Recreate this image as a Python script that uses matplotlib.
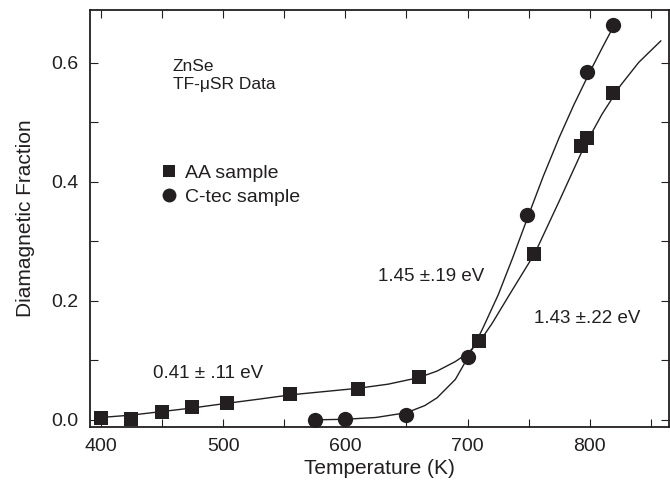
import matplotlib
matplotlib.use("Agg")
import matplotlib.pyplot as plt
from matplotlib.ticker import MultipleLocator
from matplotlib.lines import Line2D

plt.rcParams["font.family"] = ["Liberation Sans", "DejaVu Sans"]

INK = "#231f20"

# AA sample data (squares)
aa_T = [400, 425, 450, 475, 503, 555, 610, 660, 709, 754, 793, 798, 819]
aa_f = [0.003, 0.002, 0.014, 0.021, 0.028, 0.043, 0.052, 0.072, 0.132, 0.278, 0.460, 0.473, 0.549]

# C-tec sample data (circles)
ct_T = [575, 600, 650, 700, 749, 798, 819]
ct_f = [0.000, 0.002, 0.008, 0.106, 0.345, 0.585, 0.664]

# fit curves
aa_fit_T = [400, 425, 450, 475, 500, 530, 555, 585, 610, 635, 660, 675, 690, 700, 710,
            720, 735, 755, 775, 795, 810, 825, 840, 858]
aa_fit_f = [0.004, 0.008, 0.014, 0.020, 0.027, 0.035, 0.042, 0.048, 0.053, 0.060, 0.071,
            0.082, 0.098, 0.112, 0.132, 0.162, 0.213, 0.280, 0.368, 0.458, 0.514, 0.562,
            0.601, 0.637]
ct_fit_T = [575, 600, 625, 650, 665, 675, 690, 700, 712, 725, 737, 750, 762, 775, 787,
            800, 810, 820]
ct_fit_f = [0.000, 0.001, 0.004, 0.012, 0.024, 0.037, 0.068, 0.104, 0.152, 0.210, 0.273,
            0.345, 0.410, 0.475, 0.530, 0.585, 0.625, 0.664]

fig = plt.figure(figsize=(6.7, 4.88), dpi=100)
ax = fig.add_axes([0.134, 0.125, 0.865, 0.8545])

ax.plot(aa_fit_T, aa_fit_f, color=INK, lw=1.0)
ax.plot(ct_fit_T, ct_fit_f, color=INK, lw=1.0)
ax.plot(aa_T, aa_f, "s", color=INK, ms=10.5, mew=0)
ax.plot(ct_T, ct_f, "o", color=INK, ms=11, mew=0)

ax.set_xlim(391, 865)
ax.set_ylim(-0.012, 0.689)
ax.xaxis.set_major_locator(MultipleLocator(100))
ax.xaxis.set_minor_locator(MultipleLocator(50))
ax.yaxis.set_major_locator(MultipleLocator(0.2))
ax.yaxis.set_minor_locator(MultipleLocator(0.1))
ax.yaxis.set_major_formatter(matplotlib.ticker.FormatStrFormatter("%.1f"))
ax.tick_params(which="both", direction="in", length=6, width=0.8, color=INK,
               top=True, right=True, labelsize=14, labelcolor=INK)
ax.tick_params(axis="y", pad=8)
ax.tick_params(axis="x", pad=8)
for s in ax.spines.values():
    s.set_linewidth(1.3)
    s.set_color(INK)

ax.set_xlabel("Temperature (K)", fontsize=15, color=INK, labelpad=3)
ax.set_ylabel("Diamagnetic Fraction", fontsize=15, color=INK, labelpad=12)

ax.text(0.143, 0.842, "ZnSe\nTF-\u03bcSR Data", transform=ax.transAxes, fontsize=12.5,
        color=INK, va="center", linespacing=1.25)

handles = [Line2D([], [], ls="none", marker="s", color=INK, ms=9, mew=0),
           Line2D([], [], ls="none", marker="o", color=INK, ms=10, mew=0)]
ax.legend(handles, ["AA sample", "C-tec sample"], loc="center left",
          bbox_to_anchor=(0.114, 0.58), frameon=False, fontsize=14, handlelength=0.6,
          handletextpad=0.5, labelspacing=0.35, borderaxespad=0, labelcolor=INK)

ax.text(0.109, 0.128, "0.41 \u00b1 .11 eV", transform=ax.transAxes, fontsize=13.5,
        color=INK, va="center")
ax.text(0.497, 0.36, "1.45 \u00b1.19 eV", transform=ax.transAxes, fontsize=13.5,
        color=INK, va="center")
ax.text(0.767, 0.26, "1.43 \u00b1.22 eV", transform=ax.transAxes, fontsize=13.5,
        color=INK, va="center")

fig.savefig("out.png", dpi=100)
